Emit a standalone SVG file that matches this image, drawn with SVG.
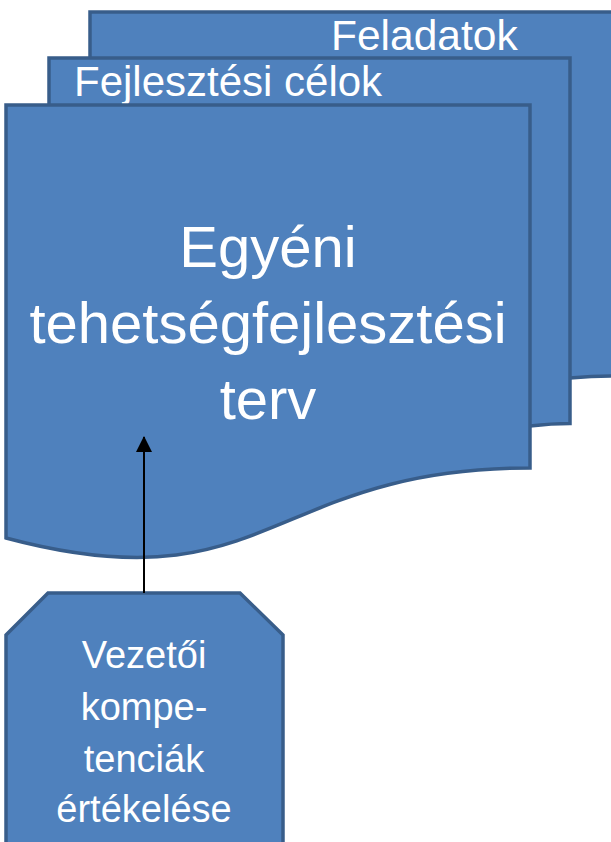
<svg xmlns="http://www.w3.org/2000/svg" width="611" height="842" viewBox="0 0 611 842">
<defs>
<style>
.doc{fill:#4F81BD;stroke:#385D8A;stroke-width:3.5;stroke-linejoin:miter}
.t{font-family:"Liberation Sans",Arial,sans-serif;fill:#FFFFFF}
.conn{stroke:#000;stroke-width:2;fill:none}
</style>
<marker id="ah" markerWidth="16" markerHeight="16" viewBox="0 0 16 16" refX="15" refY="8" orient="auto" markerUnits="userSpaceOnUse">
<path d="M0,0 L16,8 L0,16 Z" fill="#000"/>
</marker>
</defs>
<g id="multidoc">
<path class="doc" d="M90,12 H615 V376 C594,376 570,378 570,378 H90 Z"/>
<text class="t" x="331" y="50" font-size="42.5">Feladatok</text>
<path class="doc" d="M49,58 H570 V423.5 C552,423.5 530,426 530,426 H49 Z"/>
<text class="t" x="74" y="96" font-size="42">Fejlesztési célok</text>
<path class="doc" d="M6,105 H530 V468 C268,468 268,608 6,538 Z"/>
<text class="t" font-size="58" text-anchor="middle"><tspan x="268" y="267">Egyéni</tspan><tspan x="268" y="343">tehetségfejlesztési</tspan><tspan x="268" y="419">terv</tspan></text>
</g>
<g id="octagon">
<path class="doc" d="M48,593 H240 L283,635 V850 H6 V635 Z"/>
<text class="t" font-size="38" text-anchor="middle"><tspan x="144" y="668">Vezetői</tspan><tspan x="144" y="720">kompe-</tspan><tspan x="144" y="772">tenciák</tspan><tspan x="144" y="822">értékelése</tspan></text>
</g>
<g id="connectors">
<line class="conn" x1="144" y1="593" x2="144" y2="437" marker-end="url(#ah)"/>
</g>
</svg>
